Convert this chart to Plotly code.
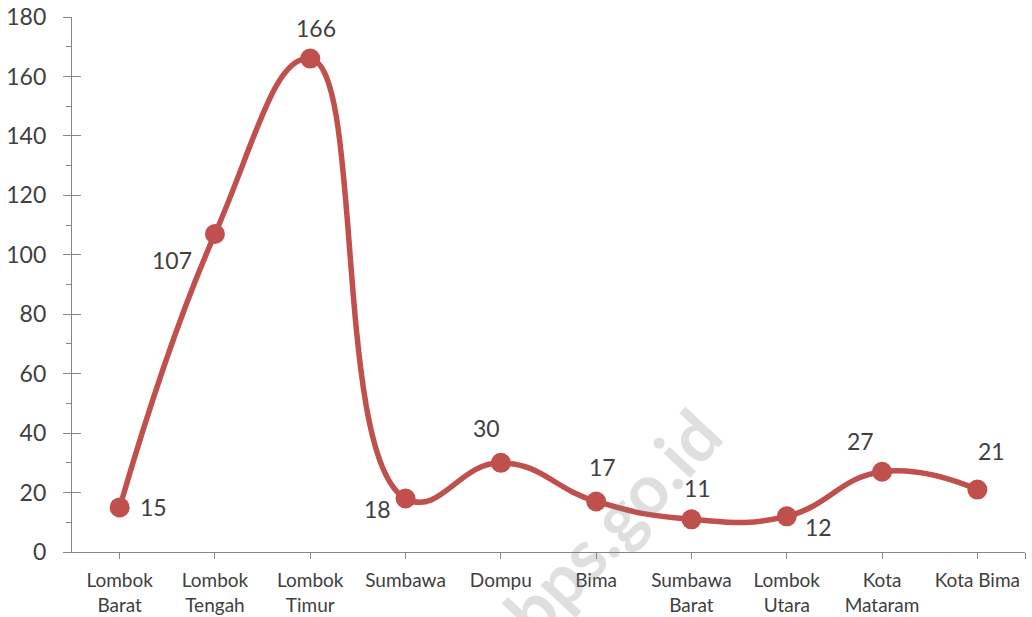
import plotly.graph_objects as go

categories = ["Lombok<br>Barat", "Lombok<br>Tengah", "Lombok<br>Timur", "Sumbawa", "Dompu",
              "Bima", "Sumbawa<br>Barat", "Lombok<br>Utara", "Kota<br>Mataram", "Kota Bima"]
values = [15, 107, 166, 18, 30, 17, 11, 12, 27, 21]
# label offsets in pixels (x, y) relative to each point
label_dx = [34, -43, 6, -28, -14, 6, 6, 32, -22, 14]
label_dy = [0, -26, 31, -10, 35, 34, 31, -11, 31, 39]

RED = "#C0504D"
FONT = "Lato"
TXT = "#404040"
AX = "#868686"

xs = list(range(len(categories)))

fig = go.Figure()
fig.add_trace(go.Scatter(
    x=xs, y=values, mode="lines+markers",
    line=dict(color=RED, width=5.5, shape="spline", smoothing=1.3),
    marker=dict(color=RED, size=20),
    hoverinfo="skip", showlegend=False,
))

for x, v, dx, dy in zip(xs, values, label_dx, label_dy):
    fig.add_annotation(x=x, y=v, text=str(v), showarrow=False, xshift=dx, yshift=dy,
                       font=dict(family=FONT, size=23, color=TXT))

# watermark centred at pixel (612, 522) of the figure
fig.add_annotation(x=(612 - 72) / 953, y=(552 - 522) / 535, xref="paper", yref="paper",
                   xanchor="center", yanchor="middle",
                   text="<b>bps.go.id</b>", showarrow=False, textangle=-47,
                   font=dict(family=FONT, size=70, color="rgba(128,128,128,0.25)"))

fig.update_layout(
    width=1032, height=617,
    margin=dict(l=72, r=7, t=17, b=65),
    paper_bgcolor="white", plot_bgcolor="white",
    xaxis=dict(
        range=[-0.5, 9.5], tickvals=xs + [9.5], ticktext=categories + [""],
        ticks="outside", ticklen=6, tickcolor=AX, tickwidth=1.3,
        showline=True, linecolor=AX, linewidth=1.3, showgrid=False, zeroline=False,
        tickfont=dict(family=FONT, size=19, color=TXT), ticklabelstandoff=5,
        automargin=False,
    ),
    yaxis=dict(
        range=[0, 180], tickvals=list(range(0, 181, 20)),
        ticks="outside", ticklen=8, tickcolor=AX, tickwidth=1.3,
        minor=dict(ticks="outside", ticklen=5, tickcolor=AX, dtick=10, showgrid=False),
        showline=True, linecolor=AX, linewidth=1.3, showgrid=False, zeroline=False,
        tickfont=dict(family=FONT, size=23, color=TXT), ticklabelstandoff=12,
        automargin=False,
    ),
    yaxis2=dict(
        range=[0, 180], overlaying="y", side="left", anchor="x",
        tickvals=list(range(0, 181, 20)), ticks="inside", ticklen=9,
        tickcolor=AX, tickwidth=1.3, showticklabels=False, showline=False,
        showgrid=False, zeroline=False, automargin=False,
    ),
)
fig.add_trace(go.Scatter(x=[None], y=[None], yaxis="y2", showlegend=False, hoverinfo="skip"))

fig.write_html("out.html")
